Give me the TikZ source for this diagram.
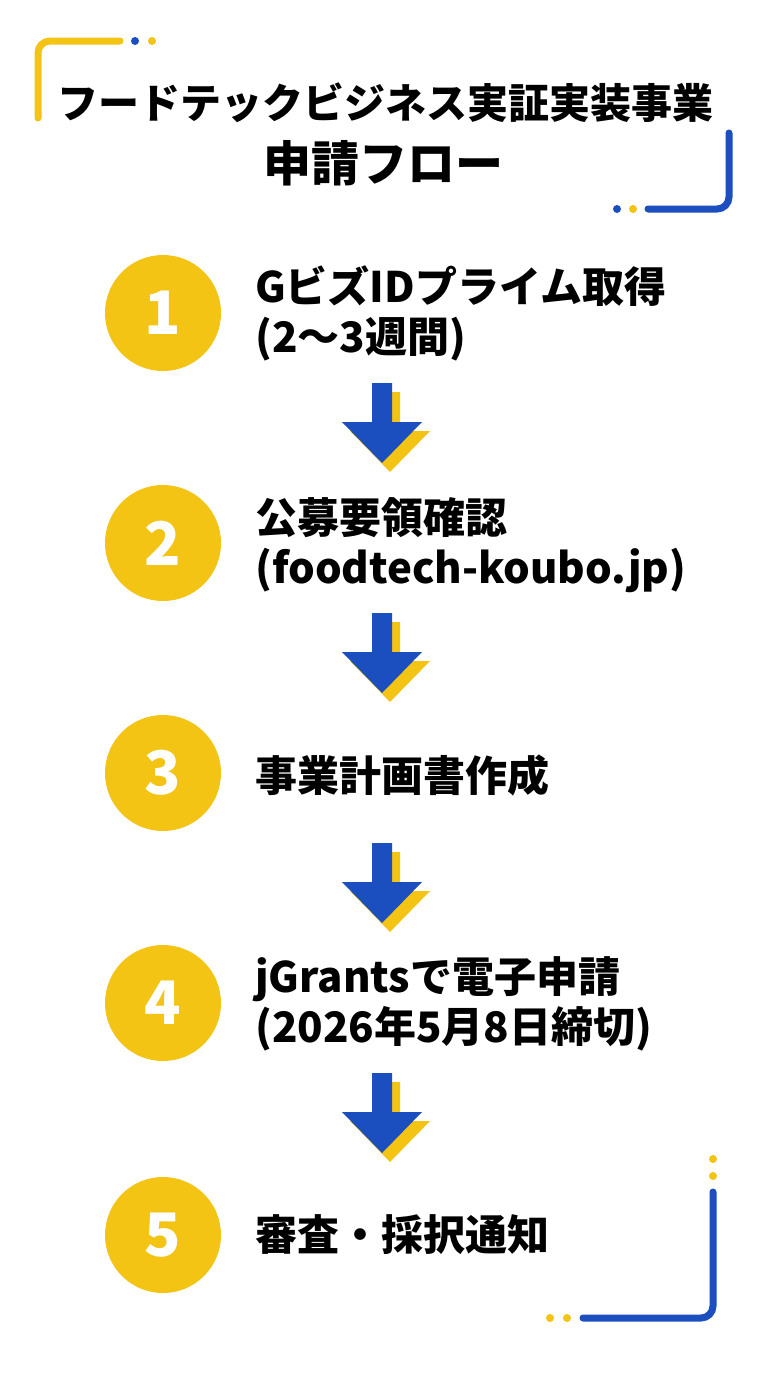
\documentclass[tikz,border=0pt]{standalone}
\usepackage{fontspec}
\setmainfont{Noto Sans CJK JP}
\definecolor{flowyellow}{HTML}{F4C414}
\definecolor{flowblue}{HTML}{1B4FBF}
\tikzset{
  stepnum/.style={circle, fill=flowyellow, minimum size=116pt, inner sep=0pt, text=white, font=\fontsize{60}{60}\selectfont\bfseries},
  steptext/.style={anchor=west, align=left, inner sep=0pt, font=\fontsize{42}{50}\selectfont\bfseries},
  deco/.style={line width=7pt, line cap=round, rounded corners=12pt},
  downarrow/.pic={
    \fill[flowyellow] (-2,9) -- (18,9) -- (18,48) -- (48,48) -- (8,89) -- (-32,48) -- (-2,48) -- cycle;
    \fill[flowblue] (-10,0) -- (10,0) -- (10,39) -- (40,39) -- (0,80) -- (-40,39) -- (-10,39) -- cycle;
  }
}
\begin{document}
\begin{tikzpicture}[x=1pt,y=-1pt]
\fill[white] (0,0) rectangle (768,1376);
\useasboundingbox (0,0) rectangle (768,1376);
% corner brackets
\draw[deco, flowyellow] (38,118) -- (38,41) -- (120,41);
\fill[flowblue] (135,41) circle (4);
\fill[flowyellow] (152,41) circle (4);
\draw[deco, flowblue] (729,133) -- (729,209) -- (648,209);
\fill[flowblue] (617,209) circle (4);
\fill[flowyellow] (633,209) circle (4);
\draw[deco, flowblue] (713,1192) -- (713,1318) -- (583,1318);
\fill[flowyellow] (713,1159) circle (4);
\fill[flowyellow] (713,1176) circle (4);
\fill[flowyellow] (550,1318) circle (4);
\fill[flowyellow] (567,1318) circle (4);
% title
\node[font=\fontsize{41}{41}\selectfont\bfseries] (title1) at (385,103) {フードテックビジネス実証実装事業};
\node[font=\fontsize{48}{48}\selectfont\bfseries] (title2) at (383,163) {申請フロー};
% steps
\node[stepnum] (n1) at (163,313) {1};
\node[stepnum] (n2) at (163,543) {2};
\node[stepnum] (n3) at (163,773) {3};
\node[stepnum] (n4) at (163,1003) {4};
\node[stepnum] (n5) at (163,1235) {5};
\node[steptext] (t1) at (255,313) {GビズIDプライム取得\\(2〜3週間)};
\node[steptext] (t2) at (255,545) {公募要領確認\\(foodtech-koubo.jp)};
\node[steptext] (t3) at (255,775) {事業計画書作成};
\node[steptext] (t4) at (255,1004) {jGrantsで電子申請\\(2026年5月8日締切)};
\node[steptext] (t5) at (255,1235) {審査・採択通知};
% arrows
\foreach \y in {383,613,843,1073}
  \pic at (382,\y) {downarrow};
\end{tikzpicture}
\end{document}
